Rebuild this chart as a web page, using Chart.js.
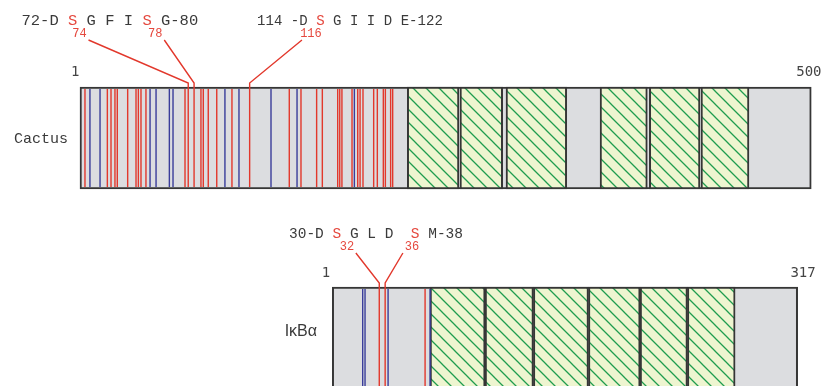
<!DOCTYPE html>
<html>
<head>
<meta charset="utf-8">
<script src="https://cdn.jsdelivr.net/npm/chart.js@4.4.1/dist/chart.umd.min.js"></script>
<style>
  html, body { margin: 0; padding: 0; background: #fff; }
  #wrap { width: 834px; height: 386px; }
</style>
</head>
<body>
<div id="wrap"><canvas id="domainChart"></canvas></div>
<script>
// ---- data (positions in residues) ----
const proteins = ["Cactus", "IκBα"];
const proteinLengths = [500, 317];

const cactusRepeats = [[223.8, 259.1], [259.8, 289.0], [291.3, 332.8], [355.6, 387.9], [389.3, 423.9], [424.6, 457.4]];
const ikbaRepeats = [[66.6, 104.1], [104.1, 137.0], [137.0, 174.5], [174.5, 209.7], [209.7, 241.9], [241.9, 274.4]];

const cactusRedSites = [3.4, 18.7, 21.2, 23.9, 25.5, 32.6, 38.3, 39.9, 41.7, 45.1, 71.8, 74, 78, 82.7, 84.3, 87.7,
  93.5, 103.9, 116, 143.1, 151.1, 161.8, 165.7, 176.2, 177.6, 179.1, 186.0, 189.9, 191.5, 193.5, 200.8, 203.3,
  207.4, 208.8, 212.4, 213.8];
const cactusBlueSites = [6.8, 13.7, 47.9, 52.0, 61.1, 63.6, 99.1, 108.7, 130.6, 148.4, 187.6];
const ikbaRedSites = [32, 36, 63.2];
const ikbaBlueSites = [20.7, 22.3, 38.0, 66.6];

const cactusMarked = [74, 78, 116];
const ikbaMarked = [32, 36];
const cactusMotifs = ["72-D S G F I S G-80", "114 -D S G I I D E-122"];
const ikbaMotifs = ["30-D S G L D  S M-38"];

// ---- layout / style ----
const W = 834;
const BAR_H = 102;
const ROW_SCALE = [1.4625, 1.468];
const ROW_LEFT = [80, 332.3];
const GRAY = "#dcdde0";
const EDGE = "#363636";
const REPEAT_FILL = "#eef5d0";
const HATCH = "#1f9d4f";
const RED = "#e2382c";
const BLUE = "#3a3d9a";
const LABEL_RED = "#e5493f";
const TEXT = "#3a3a3a";

const rowLayout = [
  {
    axis: "x",
    name: { font: "15px 'Liberation Mono'", x: 41, y: 143, align: "center" },
    startDx: -4.7, endDx: -2.4, endsY: 76,
    motifs: [{ x: 21.5, pitch: 9.3, size: 15.5 }, { x: 257, pitch: 8.45, size: 14 }], motifY: 25,
    markDx: [-108.7, -38.8, 61.3], numY: 37, leadY: 40,
  },
  {
    axis: "x2",
    name: { font: "16px 'Liberation Sans'", x: 317, y: 336, align: "right" },
    startDx: -6.3, endDx: 5.4, endsY: 277,
    motifs: [{ x: 289, pitch: 8.7, size: 14.5 }], motifY: 238,
    markDx: [-32.4, 26.75], numY: 250, leadY: 253,
  },
];

const rowSites = [
  { red: cactusRedSites, blue: cactusBlueSites, marked: cactusMarked, motifs: cactusMotifs },
  { red: ikbaRedSites, blue: ikbaBlueSites, marked: ikbaMarked, motifs: ikbaMotifs },
];

function makeHatch() {
  const s = 13;
  const c = document.createElement("canvas");
  c.width = s; c.height = s;
  const g = c.getContext("2d");
  g.fillStyle = REPEAT_FILL;
  g.fillRect(0, 0, s, s);
  g.strokeStyle = HATCH;
  g.lineWidth = 1.3;
  g.beginPath();
  g.moveTo(0, 0); g.lineTo(s, s);
  g.moveTo(-2, s - 2); g.lineTo(2, s + 2);
  g.moveTo(s - 2, -2); g.lineTo(s + 2, 2);
  g.stroke();
  return g.createPattern(c, "repeat");
}

const hatch = makeHatch();

function barSet(label, axis, row, ranges, fill, order) {
  return {
    label, xAxisID: axis, yAxisID: "y", stack: "row", order,
    data: ranges.map((r) => ({ x: r, y: row })),
    backgroundColor: fill, borderColor: EDGE, borderWidth: 2, borderSkipped: false,
    barThickness: BAR_H,
  };
}

const annotate = {
  id: "annotate",
  afterDatasetsDraw(chart) {
    const ctx = chart.ctx;
    const yScale = chart.scales.y;
    ctx.save();
    rowLayout.forEach((lay, i) => {
      const xs = chart.scales[lay.axis];
      const sites = rowSites[i];
      const yc = yScale.getPixelForValue(i);
      const top = yc - BAR_H / 2;
      const bottom = yc + BAR_H / 2;

      // site lines
      ctx.lineWidth = 1.4;
      [[sites.red, RED], [sites.blue, BLUE]].forEach(([list, color]) => {
        ctx.strokeStyle = color;
        ctx.beginPath();
        list.forEach((v) => {
          const px = xs.getPixelForValue(v);
          ctx.moveTo(px, top + 2);
          ctx.lineTo(px, bottom - 2);
        });
        ctx.stroke();
      });

      // leader lines + residue numbers
      ctx.font = "12px 'Liberation Mono'";
      ctx.textAlign = "center";
      ctx.textBaseline = "alphabetic";
      sites.marked.forEach((v, k) => {
        const px = xs.getPixelForValue(v);
        const lx = px + lay.markDx[k];
        const dir = lay.markDx[k] < 0 ? 1 : -1;
        ctx.strokeStyle = RED;
        ctx.lineWidth = 1.4;
        ctx.beginPath();
        ctx.moveTo(lx + dir * 9, lay.leadY);
        ctx.lineTo(px, top - 4);
        ctx.lineTo(px, top + 2);
        ctx.stroke();
        ctx.fillStyle = LABEL_RED;
        ctx.fillText(String(v), lx, lay.numY);
      });

      // motif sequences
      sites.motifs.forEach((seq, k) => {
        const m = lay.motifs[k];
        ctx.font = m.size + "px 'Liberation Mono'";
        ctx.textAlign = "center";
        [...seq].forEach((ch, j) => {
          ctx.fillStyle = ch === "S" ? LABEL_RED : TEXT;
          ctx.fillText(ch, m.x + j * m.pitch + m.pitch / 2, lay.motifY);
        });
      });

      // end residue numbers
      ctx.font = "14px 'DejaVu Sans Mono'";
      ctx.fillStyle = "#444";
      ctx.textAlign = "center";
      ctx.fillText("1", xs.getPixelForValue(0) + lay.startDx, lay.endsY);
      ctx.fillText(String(proteinLengths[i]), xs.getPixelForValue(proteinLengths[i]) + lay.endDx, lay.endsY);

      // protein name
      ctx.font = lay.name.font;
      ctx.fillStyle = TEXT;
      ctx.textAlign = lay.name.align;
      ctx.fillText(proteins[i], lay.name.x, lay.name.y);
    });
    ctx.restore();
  },
};

new Chart(document.getElementById("domainChart"), {
  type: "bar",
  data: {
    datasets: [
      barSet("Cactus repeats", "x", 0, cactusRepeats, hatch, 1),
      barSet("IκBα repeats", "x2", 1, ikbaRepeats, hatch, 1),
      barSet("Cactus", "x", 0, [[0, proteinLengths[0]]], GRAY, 2),
      barSet("IκBα", "x2", 1, [[0, proteinLengths[1]]], GRAY, 2),
    ],
  },
  options: {
    indexAxis: "y",
    responsive: true,
    maintainAspectRatio: false,
    animation: false,
    events: [],
    layout: { padding: 0 },
    plugins: { legend: { display: false }, tooltip: { enabled: false } },
    scales: {
      x: { type: "linear", display: false, stacked: false, offset: false,
        min: -ROW_LEFT[0] / ROW_SCALE[0], max: (W - ROW_LEFT[0]) / ROW_SCALE[0] },
      x2: { type: "linear", axis: "x", display: false, stacked: false, offset: false,
        min: -ROW_LEFT[1] / ROW_SCALE[1], max: (W - ROW_LEFT[1]) / ROW_SCALE[1] },
      y: { type: "linear", display: false, reverse: true, offset: false, min: -0.69, max: 1.24 },
    },
  },
  plugins: [annotate],
});
</script>
</body>
</html>
